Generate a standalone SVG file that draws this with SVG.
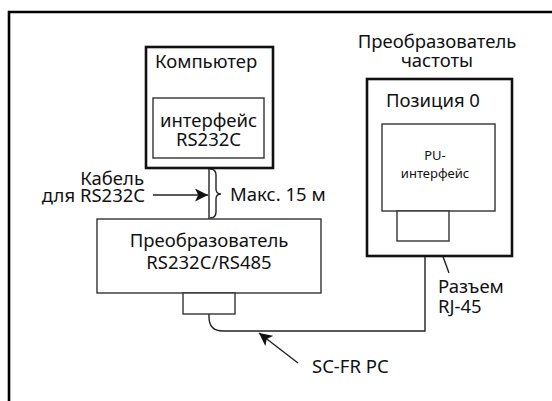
<svg xmlns="http://www.w3.org/2000/svg" width="552" height="401" viewBox="0 0 552 401">
<defs>
<marker id="ah" viewBox="0 0 12 12" refX="12" refY="6" markerWidth="13" markerHeight="13" markerUnits="userSpaceOnUse" orient="auto">
<path d="M0,0 L12,6 L0,12 L3,6 Z" fill="#111"/>
</marker>
</defs>
<style>
.t{font-family:"Noto Sans","Liberation Sans",sans-serif;font-size:18.5px;fill:#111}
.s{font-size:13px}
.thick{fill:#fff;stroke:#111;stroke-width:2.6}
.thin{fill:#fff;stroke:#333;stroke-width:1.4}
.ln{fill:none;stroke:#222;stroke-width:1.4}
.ar{fill:none;stroke:#222;stroke-width:1.4;marker-end:url(#ah)}
</style>
<rect width="552" height="401" fill="#fff"/>
<path d="M9,401 V12 H552" fill="none" stroke="#000" stroke-width="2.6"/>
<g id="connectors">
<path class="ln" d="M209,158 V219"/>
<path class="ln" d="M210,169 Q216,169 216,175 L216,189 Q216,194 221,194 Q216,194 216,199 L216,212 Q216,218 210,218"/>
<path class="ar" d="M153,195 H208"/>
<path class="ln" d="M209,314 V317 Q209,331 223,331 H425 V241"/>
<path class="ar" d="M298,363 L259,333"/>
<path class="ar" d="M449,273 L438,243"/>
</g>
<g id="computer">
<rect class="thick" x="146" y="47" width="127" height="121"/>
<text class="t" x="155" y="68">Компьютер</text>
</g>
<g id="rs232c-interface">
<rect class="thin" x="153" y="98" width="111" height="60"/>
<text class="t" x="208.5" y="127" text-anchor="middle">интерфейс</text>
<text class="t" x="208.5" y="146" text-anchor="middle">RS232C</text>
</g>
<g id="cable-label">
<text class="t" x="144" y="185" text-anchor="end">Кабель</text>
<text class="t" x="145" y="202" text-anchor="end">для RS232C</text>
</g>
<g id="max-label">
<text class="t" x="230" y="201">Макс. 15 м</text>
</g>
<g id="converter">
<rect class="thin" x="97" y="219" width="224" height="74"/>
<text class="t" x="209" y="247" text-anchor="middle">Преобразователь</text>
<text class="t" x="209" y="269" text-anchor="middle">RS232C/RS485</text>
</g>
<g id="converter-port">
<rect class="thin" x="183" y="293" width="52" height="21"/>
</g>
<g id="inverter-title">
<text class="t" x="437" y="48" text-anchor="middle">Преобразователь</text>
<text class="t" x="437" y="67" text-anchor="middle">частоты</text>
</g>
<g id="inverter">
<rect class="thick" x="367" y="79" width="145" height="177"/>
<text class="t" x="386" y="107">Позиция 0</text>
</g>
<g id="pu-interface">
<rect class="thin" x="382" y="124" width="113" height="87"/>
<text class="t s" x="435" y="160" text-anchor="middle">PU-</text>
<text class="t s" x="435" y="178" text-anchor="middle">интерфейс</text>
</g>
<g id="rj45">
<rect class="thin" x="397" y="211" width="52" height="30"/>
</g>
<g id="rj45-label">
<text class="t" x="438" y="293">Разъем</text>
<text class="t" x="438" y="313">RJ-45</text>
</g>
<g id="sc-label">
<text class="t" x="312" y="373">SC-FR PC</text>
</g>
</svg>
